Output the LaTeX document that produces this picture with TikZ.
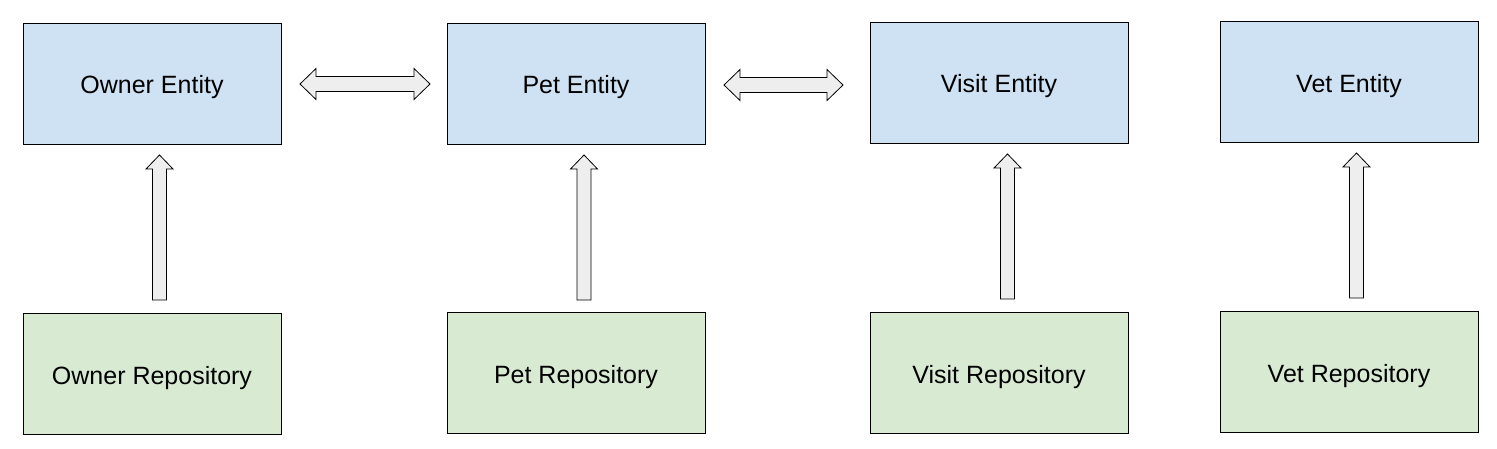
\documentclass[tikz,border=0pt]{standalone}
\usepackage{fontspec}
\setmainfont{Liberation Sans}
\usetikzlibrary{calc}
\definecolor{entblue}{HTML}{CFE2F3}
\definecolor{repgreen}{HTML}{D9EAD3}
\definecolor{arrfill}{HTML}{EEEEEE}
\begin{document}
\begin{tikzpicture}[x=1pt,y=-1pt,
  box/.style={draw=black, line width=0.9pt, minimum width=258pt, minimum height=121pt, inner sep=0pt, text height=21pt, text depth=0pt, font=\fontsize{25}{30}\selectfont},
  entity/.style={box, fill=entblue},
  repo/.style={box, fill=repgreen},
  blockarrow/.style={draw=black, line width=0.8pt, fill=arrfill, line join=miter}]
\useasboundingbox (0,0) rectangle (1497,449);
% entities
\node[entity] (oe) at (152,83.5) {Owner Entity};
\node[entity] (pe) at (576,83.5) {Pet Entity};
\node[entity] (ve) at (999,82.5) {Visit Entity};
\node[entity] (vte) at (1349,82) {Vet Entity};
% repositories
\node[repo] (or) at (152,373.5) {Owner Repository};
\node[repo] (pr) at (576,373) {Pet Repository};
\node[repo] (vr) at (999,372.5) {Visit Repository};
\node[repo] (vtr) at (1349,371.5) {Vet Repository};
% up arrows: base and tip coordinates
\coordinate (a1b) at (159.5,300); \coordinate (a1t) at (159.5,155);
\coordinate (a2b) at (584,300);   \coordinate (a2t) at (584,155);
\coordinate (a3b) at (1007.5,299);\coordinate (a3t) at (1007.5,154);
\coordinate (a4b) at (1356.5,298);\coordinate (a4t) at (1356.5,153);
\foreach \b/\t in {a1b/a1t,a2b/a2t,a3b/a3t,a4b/a4t}{
  \draw[blockarrow] ($(\b)+(-7,0)$) -- ($(\t)+(-7,14)$) -- ($(\t)+(-13.5,14)$) -- (\t)
    -- ($(\t)+(13.5,14)$) -- ($(\t)+(7,14)$) -- ($(\b)+(7,0)$) -- cycle;
}
% double arrows
\coordinate (d1l) at (300,84); \coordinate (d1r) at (430,84);
\coordinate (d2l) at (724,85); \coordinate (d2r) at (843,85);
\foreach \l/\r in {d1l/d1r,d2l/d2r}{
  \draw[blockarrow] (\l) -- ($(\l)+(16,-15.5)$) -- ($(\l)+(16,-7.5)$) -- ($(\r)+(-16,-7.5)$)
    -- ($(\r)+(-16,-15.5)$) -- (\r) -- ($(\r)+(-16,15.5)$) -- ($(\r)+(-16,7.5)$)
    -- ($(\l)+(16,7.5)$) -- ($(\l)+(16,15.5)$) -- cycle;
}
\end{tikzpicture}
\end{document}
